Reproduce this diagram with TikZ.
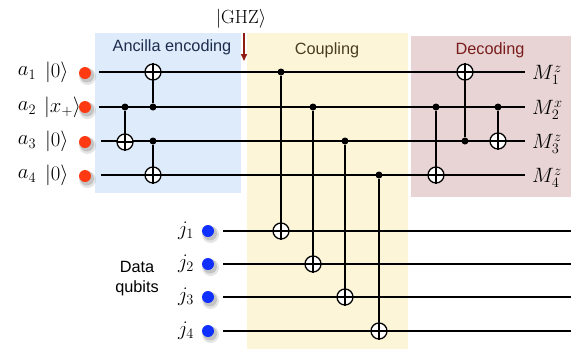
\documentclass[tikz,border=0pt]{standalone}
\usepackage{fontspec}
\newfontfamily\labelsans{Liberation Sans}
\usetikzlibrary{arrows.meta}
\DeclareMathSizes{20.5}{20.5}{15}{11}
\definecolor{encbg}{HTML}{DDEBFA}
\definecolor{coupbg}{HTML}{FCF5D8}
\definecolor{decbg}{HTML}{E8D4D4}
\definecolor{enctxt}{HTML}{1E2C4E}
\definecolor{couptxt}{HTML}{4A3E1E}
\definecolor{dectxt}{HTML}{7A1C1C}
\definecolor{ghzred}{HTML}{8E1B14}
\definecolor{ancred}{HTML}{FF3A12}
\definecolor{datablue}{HTML}{1030FF}
\begin{document}
\begin{tikzpicture}[x=1pt,y=-1pt,
  txt/.style={font=\fontsize{20.5}{24}\selectfont,inner sep=0pt},
  gtxt/.style={font=\fontsize{17.28}{22}\selectfont,inner sep=0pt},
  stxt/.style={font=\labelsans\fontsize{16.3}{20}\selectfont,inner sep=0pt},
  wire/.style={line width=1.7pt},
  ctrl/.style={circle,fill=black,inner sep=0pt,minimum size=7pt},
  targ/.style={circle,draw=black,line width=1.3pt,fill=white,inner sep=0pt,minimum size=16pt,
    path picture={\draw[line width=1.3pt] (path picture bounding box.north)--(path picture bounding box.south)
      (path picture bounding box.west)--(path picture bounding box.east);}},
  link/.style={line width=1.7pt},
  qdot/.style={circle,inner sep=0pt,minimum size=12pt},
]
\useasboundingbox (0,0) rectangle (571,349);
% background panels
\fill[encbg] (95,33) rectangle (241,193);
\fill[coupbg] (247,33) rectangle (408,349);
\fill[decbg] (411,36) rectangle (571,197);
\node[stxt,text=enctxt] (enc) at (172,47) {Ancilla encoding};
\node[stxt,text=couptxt] (coup) at (327,50) {Coupling};
\node[stxt,text=dectxt] (dec) at (490,50) {Decoding};
% GHZ marker
\node[gtxt] (ghz) at (241,19) {\scalebox{1.1}{$|\mathrm{GHZ}\rangle$}};
\coordinate (ghzend) at (244,61);
\draw[ghzred,line width=1.5pt,-{Triangle[length=7pt,width=6pt]}] (244,33) -- (ghzend);
% wire ends
\coordinate (a1s) at (99,72);  \coordinate (a1e) at (525,72);
\coordinate (a2s) at (99,107); \coordinate (a2e) at (525,107);
\coordinate (a3s) at (101,141); \coordinate (a3e) at (525,141);
\coordinate (a4s) at (101,175); \coordinate (a4e) at (525,175);
\coordinate (j1s) at (223,231); \coordinate (j1e) at (571,231);
\coordinate (j2s) at (223,264); \coordinate (j2e) at (571,264);
\coordinate (j3s) at (223,297); \coordinate (j3e) at (571,297);
\coordinate (j4s) at (223,331); \coordinate (j4e) at (571,331);
\foreach \w in {a1,a2,a3,a4,j1,j2,j3,j4}{\draw[wire] (\w s) -- (\w e);}
% qubit dots with soft shadows
\foreach \y [count=\i] in {73,107,142,176}{
  \fill[black,opacity=0.10] (87.5,\y+3.5) circle (8.5);
  \fill[black,opacity=0.15] (87,\y+2.5) circle (7);
  \node[qdot,fill=ancred] (da\i) at (85,\y) {};
}
\foreach \y [count=\i] in {231,264,297,331}{
  \fill[black,opacity=0.10] (210.5,\y+3.5) circle (8.5);
  \fill[black,opacity=0.15] (210,\y+2.5) circle (7);
  \node[qdot,fill=datablue] (dj\i) at (208,\y) {};
}
% labels
\node[txt] (la1) at (27,73) {$a_1$};
\node[txt] (la2) at (27,108) {$a_2$};
\node[txt] (la3) at (27,142) {$a_3$};
\node[txt] (la4) at (27,176) {$a_4$};
\node[txt,anchor=west] (k1) at (45,72) {$|0\rangle$};
\node[txt,anchor=west] (k2) at (44,107) {$|x_+\rangle$};
\node[txt,anchor=west] (k3) at (45,141) {$|0\rangle$};
\node[txt,anchor=west] (k4) at (45,175) {$|0\rangle$};
\node[txt] (lj1) at (186,231) {$j_1$};
\node[txt] (lj2) at (186,264) {$j_2$};
\node[txt] (lj3) at (186,297) {$j_3$};
\node[txt] (lj4) at (186,331) {$j_4$};
\node[stxt,align=center] (data) at (137,279) {Data\\qubits};
\node[txt,anchor=west] (m1) at (532,75) {$M_1^z$};
\node[txt,anchor=west] (m2) at (532,110) {$M_2^x$};
\node[txt,anchor=west] (m3) at (532,144) {$M_3^z$};
\node[txt,anchor=west] (m4) at (532,178) {$M_4^z$};
% encoding gates
\node[ctrl] (c1) at (125,107) {};
\node[targ] (t1) at (125,142) {};
\draw[link] (c1) -- (t1.south);
\node[ctrl] (c2) at (153,107) {};
\node[targ] (t2) at (153,72) {};
\draw[link] (c2) -- (t2.north);
\node[ctrl] (c3) at (153,141) {};
\node[targ] (t3) at (153,175) {};
\draw[link] (c3) -- (t3.south);
% coupling gates
\node[ctrl] (c4) at (281,72) {};
\node[targ] (t4) at (281,231) {};
\draw[link] (c4) -- (t4.south);
\node[ctrl] (c5) at (313,107) {};
\node[targ] (t5) at (313,264) {};
\draw[link] (c5) -- (t5.south);
\node[ctrl] (c6) at (345,141) {};
\node[targ] (t6) at (345,297) {};
\draw[link] (c6) -- (t6.south);
\node[ctrl] (c7) at (379,175) {};
\node[targ] (t7) at (379,331) {};
\draw[link] (c7) -- (t7.south);
% decoding gates
\node[ctrl] (c8) at (436,107) {};
\node[targ] (t8) at (436,175) {};
\draw[link] (c8) -- (t8.south);
\node[ctrl] (c9) at (465,141) {};
\node[targ] (t9) at (465,72) {};
\draw[link] (c9) -- (t9.north);
\node[ctrl] (c10) at (498,107) {};
\node[targ] (t10) at (498,141) {};
\draw[link] (c10) -- (t10.south);
\end{tikzpicture}
\end{document}
